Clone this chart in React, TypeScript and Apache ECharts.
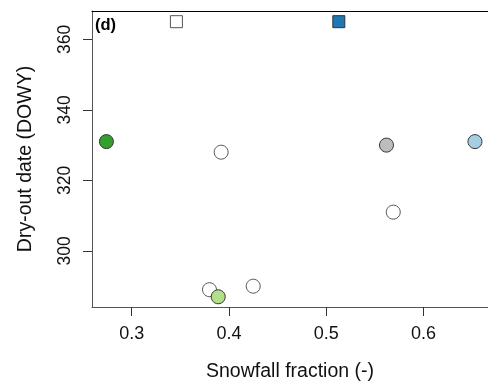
import React, { useEffect, useRef } from "react";
import * as echarts from "echarts";

const snowfallFraction = [0.346, 0.513, 0.274, 0.392, 0.562, 0.653, 0.569, 0.38, 0.389, 0.425];
const dryOutDate = [365, 365, 331, 328, 330, 331, 311, 289, 287, 290];
const markerShapes = ["rect", "rect", "circle", "circle", "circle", "circle", "circle", "circle", "circle", "circle"];
const markerFills = ["#ffffff", "#1f78b4", "#33a02c", "#ffffff", "#bdbdbd", "#a6cee3", "#ffffff", "#ffffff", "#b2df8a", "#ffffff"];
const xTicks = [0.3, 0.4, 0.5, 0.6];
const yTicks = [300, 320, 340, 360];

export default function App() {
  const ref = useRef<HTMLDivElement>(null);
  useEffect(() => {
    if (!ref.current) return;
    const chart = echarts.init(ref.current, null, { renderer: "svg" });
    const font = "Liberation Sans, Arial, sans-serif";
    const xMin = 0.2592;
    const xMax = 0.6664;
    const data = snowfallFraction.map((x, i) => {
      const filled = markerFills[i] !== "#ffffff";
      return {
        value: [x, dryOutDate[i]],
        symbol: markerShapes[i],
        symbolSize: markerShapes[i] === "rect" ? 12 : 14,
        itemStyle: {
          color: markerFills[i],
          borderColor: filled ? "#333333" : "#555555",
          borderWidth: 1,
          opacity: 1,
        },
      };
    });
    chart.setOption({
      animation: false,
      grid: {
        left: 92,
        top: 11,
        bottom: 80,
        right: 0,
        show: false,
      },
      xAxis: [
        {
          type: "value",
          min: xMin,
          max: xMax,
          splitLine: { show: false },
          axisLine: { show: true, onZero: false, lineStyle: { color: "#555555", width: 1 } },
          axisTick: { show: true, inside: false, length: 9, customValues: xTicks, lineStyle: { color: "#333333" } },
          axisLabel: {
            customValues: xTicks,
            formatter: (v: number) => v.toFixed(1),
            fontFamily: font,
            fontSize: 18,
            color: "#111111",
            margin: 17,
          },
          name: "Snowfall fraction (-)",
          nameLocation: "middle",
          nameGap: 53,
          nameTextStyle: { fontFamily: font, fontSize: 19.5, color: "#111111" },
        },
        {
          type: "value",
          position: "top",
          min: xMin,
          max: xMax,
          splitLine: { show: false },
          axisLine: { show: true, onZero: false, lineStyle: { color: "#000000", width: 1 } },
          axisTick: { show: false },
          axisLabel: { show: false },
        },
      ],
      yAxis: {
        type: "value",
        min: 284.1,
        max: 368.03,
        splitLine: { show: false },
        axisLine: { show: true, onZero: false, lineStyle: { color: "#555555", width: 1 } },
        axisTick: { show: true, inside: false, length: 9, customValues: yTicks, lineStyle: { color: "#333333" } },
        axisLabel: {
          customValues: yTicks,
          rotate: 90,
          fontFamily: font,
          fontSize: 17.5,
          color: "#111111",
          margin: 19,
        },
        name: "Dry-out date (DOWY)",
        nameLocation: "middle",
        nameGap: 58,
        nameTextStyle: { fontFamily: font, fontSize: 19.5, color: "#111111" },
      },
      series: [
        {
          type: "scatter",
          xAxisIndex: 0,
          data,
          z: 3,
        },
      ],
      graphic: [
        {
          type: "text",
          left: 95,
          top: 15,
          style: {
            text: "(d)",
            fontFamily: font,
            fontSize: 16.5,
            fontWeight: "bold",
            fill: "#000000",
          },
        },
      ],
    });
    return () => chart.dispose();
  }, []);
  return (
    <div
      ref={ref}
      style={{ position: "fixed", left: 0, top: 0, width: 488, height: 387 }}
    />
  );
}
